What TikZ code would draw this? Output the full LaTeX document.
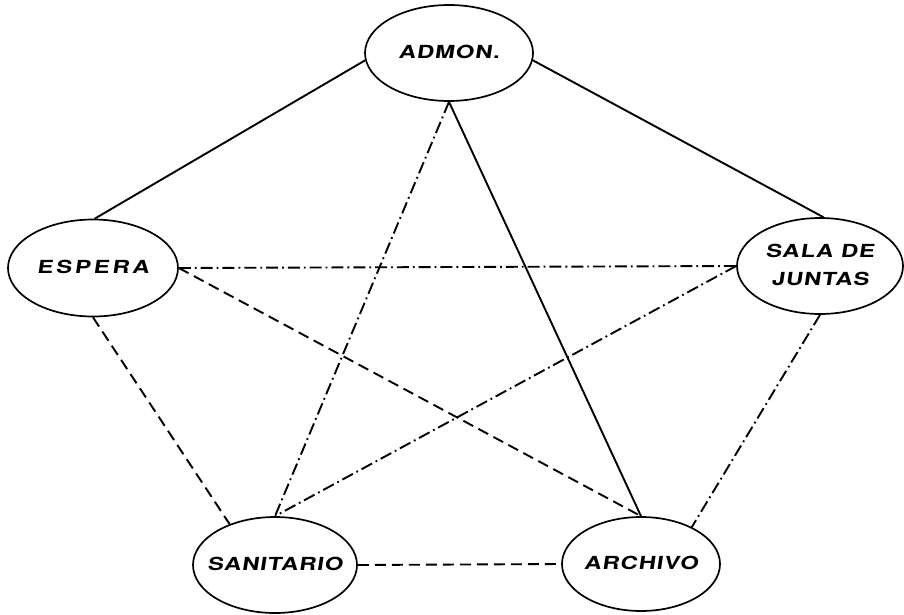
\documentclass[tikz,border=0pt]{standalone}
\usepackage{fontspec}
\newfontfamily\lbl[FakeStretch=1.32,LetterSpace=5,FakeSlant=0.15,UprightFont=*-Bold]{TeX Gyre Heros}
\newfontfamily\lblwide[FakeStretch=1.32,LetterSpace=16,FakeSlant=0.15,UprightFont=*-Bold]{TeX Gyre Heros}
\usetikzlibrary{shapes.geometric}
\newcommand{\roomtext}[1]{\makebox[0pt]{\begin{tabular}{@{}c@{}}#1\end{tabular}}}
\tikzset{
  room/.style={ellipse, draw, line width=1.7pt, inner sep=0pt,
    font=\lbl\fontsize{18}{28}\selectfont},
  solidlink/.style={line width=1.9pt},
  dashlink/.style={line width=1.9pt, dash pattern=on 11pt off 6pt},
  dotlink/.style={line width=1.9pt, dash pattern=on 12pt off 4pt on 1.8pt off 4pt},
}
\begin{document}
\begin{tikzpicture}[x=1pt,y=-1pt]
\useasboundingbox (0,0) rectangle (904,615);
\node[room, minimum width=168pt, minimum height=96pt] (admon) at (449,53) {\roomtext{ADMON.}};
\node[room, minimum width=170pt, minimum height=97pt, font=\lblwide\fontsize{18}{28}\selectfont] (espera) at (93,268) {\roomtext{ESPERA}};
\node[room, minimum width=166pt, minimum height=96pt] (sala) at (820,266) {\roomtext{SALA DE\\JUNTAS}};
\node[room, minimum width=164pt, minimum height=96pt] (sanitario) at (275,565) {\roomtext{SANITARIO}};
\node[room, minimum width=158pt, minimum height=94pt] (archivo) at (641,564) {\roomtext{ARCHIVO}};

\draw[solidlink] (admon.185) -- (espera.88);
\draw[solidlink] (admon.-5) -- (sala.86);
\draw[solidlink] (admon.south) -- (archivo.north);
\draw[dotlink] (admon.south) -- (sanitario.north);
\draw[dotlink] (espera.east) -- (sala.west);
\draw[dashlink] (espera.east) -- (archivo.north);
\draw[dashlink] (espera.south) -- (sanitario.138);
\draw[dotlink] (sala.west) -- (sanitario.north);
\draw[dotlink] (sala.south) -- (archivo.36);
\draw[dashlink] (sanitario.east) -- (archivo.west);
\end{tikzpicture}
\end{document}
